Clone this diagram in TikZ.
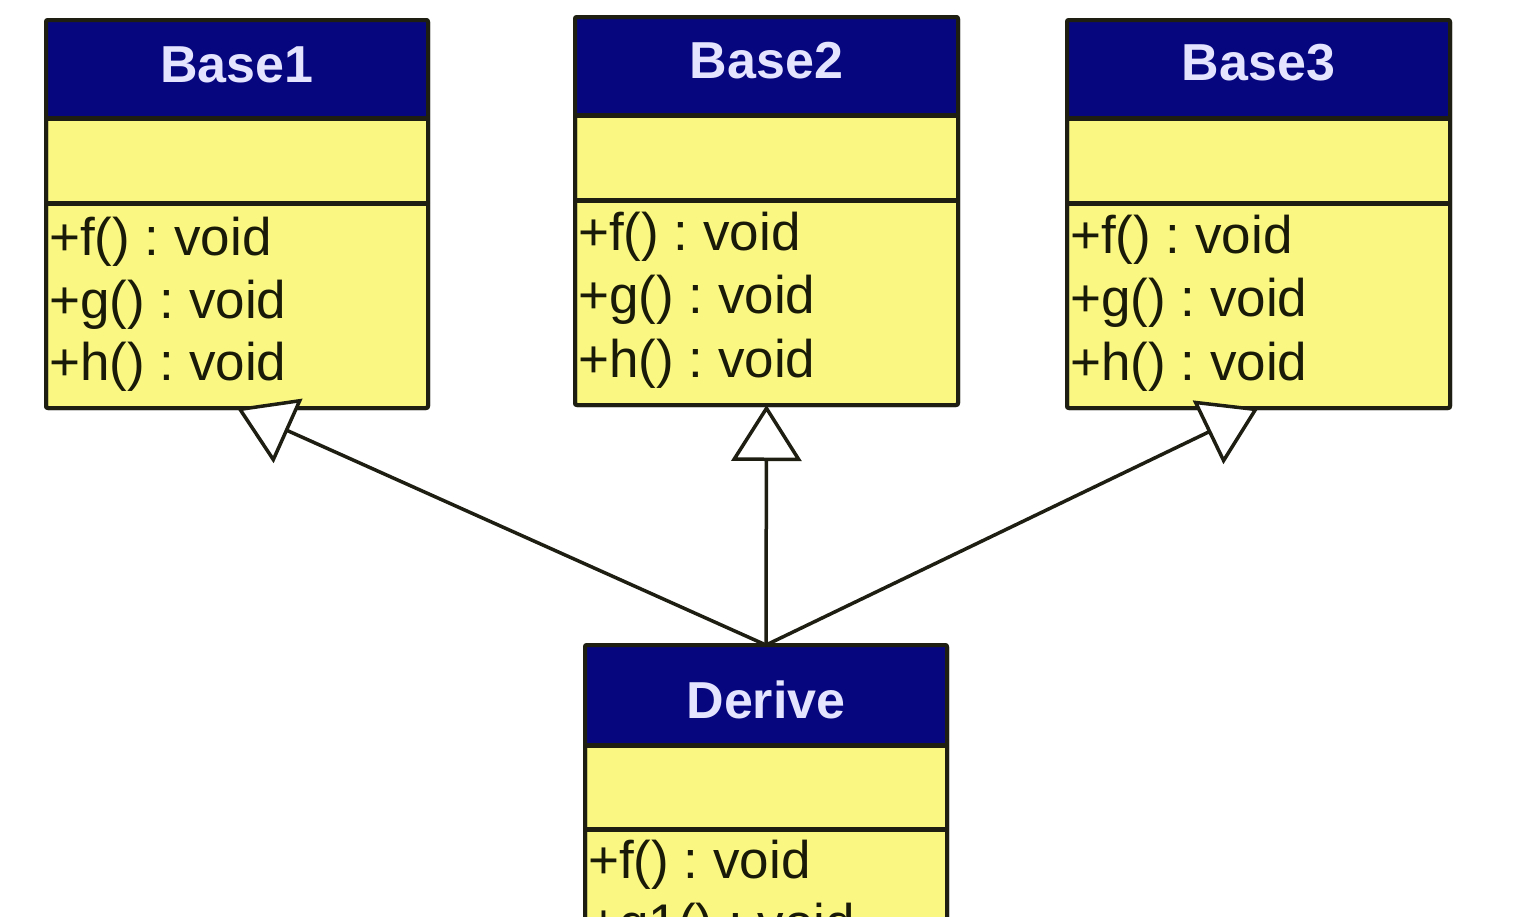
\documentclass[tikz,border=0pt]{standalone}
\usepackage{fontspec}
\setmainfont{Liberation Sans}
\usetikzlibrary{arrows.meta}
\frenchspacing
\definecolor{umlnavy}{HTML}{06067E}
\definecolor{umlyellow}{HTML}{FAF882}
\definecolor{umledge}{HTML}{1E1E12}
\definecolor{umltitle}{HTML}{E4E4FF}
\definecolor{umltext}{HTML}{1A1A08}
\tikzset{
  x=1pt, y=-1pt,
  classbox/.style={draw=umledge, fill=umlyellow, line width=4pt, rectangle,
    anchor=north west, inner sep=0pt, outer sep=0pt, rounded corners=2pt},
  headbox/.style={fill=umlnavy, rectangle, anchor=north west, inner sep=0pt, outer sep=0pt},
  divider/.style={draw=umledge, line width=5pt},
  outline/.style={draw=umledge, line width=4pt, rounded corners=2pt},
  classname/.style={anchor=base, text=umltitle, font=\fontsize{52}{60}\selectfont\bfseries, inner sep=0pt},
  member/.style={anchor=base west, text=umltext, font=\fontsize{53}{62}\selectfont, inner sep=0pt},
  inherit/.style={draw=umledge, line width=3.5pt,
    -{Triangle[length=56pt, width=70pt, fill=white, line width=3.5pt]}},
}
\begin{document}
\begin{tikzpicture}
\useasboundingbox (0,0) rectangle (1540,916);
\fill[white] (0,0) rectangle (1540,916);
\begin{scope}
\clip (0,0) rectangle (1540,916);

% Base1
\node[classbox, minimum width=382pt, minimum height=388pt] (b1) at (46,20) {};
\node[headbox, minimum width=382pt, minimum height=98pt] (b1h) at (46,20) {};
\draw[divider] (46,118) -- (428,118);
\draw[divider] (46,203) -- (428,203);
\draw[outline] (46,20) rectangle (428,408);
\node[classname] (b1t) at (237,82) {Base1};
\node[member] (b1f) at (49,255) {+f() : void};
\node[member] (b1g) at (49,318) {+g() : void};
\node[member] (b1m) at (49,380) {+h() : void};

% Base2
\node[classbox, minimum width=383pt, minimum height=388pt] (b2) at (575,17) {};
\node[headbox, minimum width=383pt, minimum height=98pt] (b2h) at (575,17) {};
\draw[divider] (575,115) -- (958,115);
\draw[divider] (575,200) -- (958,200);
\draw[outline] (575,17) rectangle (958,405);
\node[classname] (b2t) at (766.5,78) {Base2};
\node[member] (b2f) at (578,250) {+f() : void};
\node[member] (b2g) at (578,313) {+g() : void};
\node[member] (b2m) at (578,377) {+h() : void};

% Base3
\node[classbox, minimum width=383pt, minimum height=388pt] (b3) at (1067,20) {};
\node[headbox, minimum width=383pt, minimum height=98pt] (b3h) at (1067,20) {};
\draw[divider] (1067,118) -- (1450,118);
\draw[divider] (1067,203) -- (1450,203);
\draw[outline] (1067,20) rectangle (1450,408);
\node[classname] (b3t) at (1258.5,80) {Base3};
\node[member] (b3f) at (1070,253) {+f() : void};
\node[member] (b3g) at (1070,316) {+g() : void};
\node[member] (b3m) at (1070,380) {+h() : void};

% Derive (continues below the lower edge)
\node[classbox, minimum width=362pt, minimum height=400pt] (d) at (585,645) {};
\node[headbox, minimum width=362pt, minimum height=100pt] (dh) at (585,645) {};
\draw[divider] (585,745) -- (947,745);
\draw[divider] (585,829) -- (947,829);
\draw[outline] (585,645) rectangle (947,1045);
\node[classname] (dt) at (766,718) {Derive};
\node[member] (df) at (588,878) {+f() : void};
\node[member] (dg) at (588,941) {+g1() : void};

% generalisation arrows
\draw[inherit] (d.north) -- (b1.south);
\draw[inherit] (d.north) -- (b2.south);
\draw[inherit] (d.north) -- (b3.south);
\end{scope}
\end{tikzpicture}
\end{document}
